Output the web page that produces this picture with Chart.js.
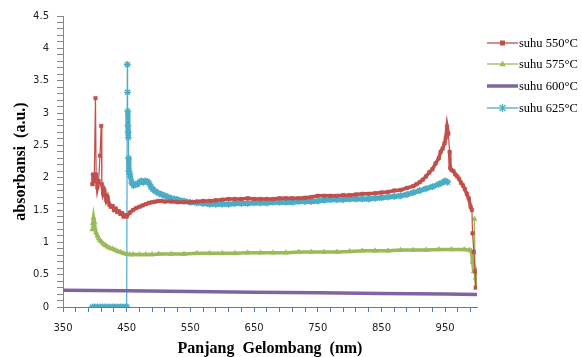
<!DOCTYPE html>
<html>
<head>
<meta charset="utf-8">
<script src="https://cdn.jsdelivr.net/npm/chart.js@4/dist/chart.umd.min.js"></script>
<style>
  html, body { margin: 0; padding: 0; background: #fff; }
  #wrap { width: 582px; height: 357px; }
</style>
</head>
<body>
<div id="wrap"><canvas id="absChart" width="582" height="357"></canvas></div>
<script>
// wavelength (nm) and absorbance for each temperature
const wl550 = [396, 397, 399, 401, 402, 404, 406, 408, 410, 411, 413, 415, 418, 420, 423, 425, 428, 430, 433, 435, 438, 440, 443, 445, 448, 450,
  455, 460, 465, 470, 475, 480, 485, 490, 495, 500, 505, 510, 520, 530, 540, 550, 560, 570, 580, 590, 600, 610, 620, 630, 640, 650,
  660, 670, 680, 690, 700, 710, 720, 730, 740, 750, 760, 770, 780, 790, 800, 810, 820, 830, 840, 850, 860, 870, 880, 890, 900,
  905, 910, 915, 920, 925, 930, 935, 940, 943, 946, 949, 951, 953, 955, 957, 958, 960, 963, 966, 969, 972, 975, 978, 981, 984,
  987, 990, 992, 993, 995, 997, 998];
const abs550 = [1.90, 2.05, 1.95, 3.23, 2.05, 1.85, 1.95, 2.34, 2.80, 1.90, 1.75, 1.80, 1.65, 1.70, 1.58, 1.55, 1.56, 1.50, 1.52, 1.47, 1.48, 1.44, 1.45, 1.40, 1.42, 1.40,
  1.46, 1.50, 1.53, 1.55, 1.57, 1.59, 1.61, 1.62, 1.63, 1.64, 1.64, 1.63, 1.63, 1.62, 1.62, 1.62, 1.63, 1.64, 1.64, 1.65, 1.66, 1.67, 1.67, 1.67, 1.68, 1.67,
  1.67, 1.67, 1.67, 1.68, 1.68, 1.68, 1.68, 1.69, 1.70, 1.72, 1.72, 1.72, 1.72, 1.73, 1.73, 1.74, 1.75, 1.75, 1.76, 1.77, 1.78, 1.80, 1.81, 1.84, 1.87,
  1.90, 1.93, 1.97, 2.02, 2.08, 2.13, 2.22, 2.30, 2.40, 2.45, 2.53, 2.62, 2.79, 2.68, 2.40, 2.15, 2.12, 2.10, 2.05, 2.02, 1.98, 1.92, 1.88, 1.82, 1.75,
  1.68, 1.55, 1.50, 1.14, 0.85, 0.55, 0.30];

const wl575 = [396, 397, 398, 399, 400, 402, 404, 406, 408, 411, 414, 417, 420, 424, 428, 432, 436, 440, 445, 450, 455, 460, 470, 480, 490, 500,
  520, 540, 560, 580, 600, 620, 640, 660, 680, 700, 720, 740, 760, 780, 800, 820, 840, 860, 880, 900, 920, 940, 960, 980,
  988, 991, 993, 995, 996, 997, 998, 999];
const abs575 = [1.20, 1.30, 1.38, 1.32, 1.22, 1.15, 1.10, 1.06, 1.03, 1.00, 0.97, 0.95, 0.93, 0.91, 0.90, 0.88, 0.86, 0.85, 0.83, 0.82, 0.81, 0.81, 0.81, 0.81, 0.81, 0.82,
  0.82, 0.82, 0.83, 0.83, 0.83, 0.83, 0.84, 0.84, 0.84, 0.84, 0.85, 0.85, 0.85, 0.85, 0.86, 0.87, 0.87, 0.87, 0.88, 0.88, 0.88, 0.89, 0.89, 0.89,
  0.88, 0.87, 0.70, 0.55, 1.36, 0.60, 0.45, 0.30];

const wl600 = [350, 450, 550, 650, 750, 850, 950, 1000];
const abs600 = [0.26, 0.25, 0.24, 0.23, 0.22, 0.21, 0.20, 0.195];

const wl625 = [396, 400, 404, 408, 412, 416, 420, 424, 428, 432, 436, 440, 444, 448, 450,
  451, 451.3, 451.6, 452, 452.3, 452.6, 453, 453.5, 455, 458, 461, 464, 467, 470, 473, 476, 479, 482, 485, 488, 491, 495, 500,
  505, 510, 515, 520, 525, 530, 540, 550, 560, 570, 580, 590, 600, 610, 620, 630, 640, 650, 660, 670, 680, 690, 700, 710, 720,
  730, 740, 750, 760, 770, 780, 790, 800, 810, 820, 830, 840, 850, 860, 870, 880, 890, 900, 910, 920, 930, 940, 945, 950, 954];
const abs625 = [0, 0, 0, 0, 0, 0, 0, 0, 0, 0, 0, 0, 0, 0, 0,
  3.75, 3.32, 3.03, 2.80, 2.70, 2.62, 2.30, 2.10, 2.05, 1.92, 1.88, 1.90, 1.90, 1.93, 1.95, 1.93, 1.95, 1.94, 1.92, 1.86, 1.82, 1.79, 1.76,
  1.74, 1.72, 1.70, 1.68, 1.67, 1.66, 1.64, 1.62, 1.61, 1.60, 1.59, 1.59, 1.59, 1.59, 1.60, 1.60, 1.60, 1.61, 1.61, 1.61, 1.62, 1.62, 1.62, 1.62, 1.63,
  1.63, 1.63, 1.64, 1.65, 1.66, 1.66, 1.66, 1.67, 1.67, 1.67, 1.67, 1.68, 1.69, 1.70, 1.71, 1.72, 1.74, 1.77, 1.80, 1.83, 1.86, 1.90, 1.92, 1.95, 1.93];

const seriesNames = ['suhu 550°C', 'suhu 575°C', 'suhu 600°C', 'suhu 625°C'];
const yTicks = [];
for (let i = 0; i <= 45; i++) yTicks.push(i / 10);
const xTicks = [];
for (let v = 350; v <= 990; v += 20) xTicks.push(v);

function pairs(xs, ys) {
  return xs.map((x, i) => ({ x: x, y: ys[i] }));
}

// thick band where the data is smooth, thin line across the jumps
function bandWidth(thick) {
  return (c) => (Math.abs(c.p1.parsed.y - c.p0.parsed.y) > 0.25 ? 1.2 : thick);
}

const RED = '#c0504d', GREEN = '#9bbb59', PURPLE = '#8064a2', CYAN = '#4bacc6';

// draws a marker like the ones in the series
function marker(ctx, style, x, y, color) {
  ctx.save();
  ctx.fillStyle = color;
  ctx.strokeStyle = color;
  ctx.lineWidth = 1.3;
  if (style === 'rect') {
    ctx.fillRect(x - 2.5, y - 2.5, 5, 5);
  } else if (style === 'triangle') {
    ctx.beginPath();
    ctx.moveTo(x, y - 3.5);
    ctx.lineTo(x + 3.2, y + 2.3);
    ctx.lineTo(x - 3.2, y + 2.3);
    ctx.closePath();
    ctx.fill();
  } else if (style === 'star') {
    ctx.beginPath();
    ctx.moveTo(x - 3, y - 3); ctx.lineTo(x + 3, y + 3);
    ctx.moveTo(x + 3, y - 3); ctx.lineTo(x - 3, y + 3);
    ctx.moveTo(x, y - 4); ctx.lineTo(x, y + 4);
    ctx.stroke();
  }
  ctx.restore();
}

const legendPlugin = {
  id: 'sideLegend',
  afterDraw(chart) {
    const ctx = chart.ctx;
    const items = [
      { color: RED, style: 'rect', w: 1.3, y: 43 },
      { color: GREEN, style: 'triangle', w: 1.3, y: 64 },
      { color: PURPLE, style: null, w: 3.5, y: 86 },
      { color: CYAN, style: 'star', w: 1.3, y: 108 }
    ];
    items.forEach((it, i) => {
      ctx.save();
      ctx.strokeStyle = it.color;
      ctx.lineWidth = it.w;
      ctx.beginPath();
      ctx.moveTo(487, it.y);
      ctx.lineTo(518, it.y);
      ctx.stroke();
      ctx.restore();
      if (it.style) marker(ctx, it.style, 502.5, it.y, it.color);
      ctx.save();
      ctx.fillStyle = '#000';
      ctx.font = '12.5px "Liberation Serif", serif';
      ctx.textBaseline = 'middle';
      ctx.fillText(seriesNames[i], 519, it.y + 1);
      ctx.restore();
    });
  }
};

const bgPlugin = {
  id: 'whiteBg',
  beforeDraw(chart) {
    const ctx = chart.ctx;
    ctx.save();
    ctx.fillStyle = '#fff';
    ctx.fillRect(0, 0, chart.width, chart.height);
    ctx.restore();
  }
};

const ctx = document.getElementById('absChart').getContext('2d');
const absChart = new Chart(ctx, {
  type: 'line',
  data: {
    datasets: [
      { label: seriesNames[0], data: pairs(wl550, abs550), borderColor: RED, backgroundColor: RED, borderWidth: 3.5,
        segment: { borderWidth: bandWidth(3.5) },
        pointStyle: 'rect', pointRadius: 2.5, pointBorderWidth: 0.5, pointBackgroundColor: RED, pointBorderColor: RED },
      { label: seriesNames[1], data: pairs(wl575, abs575), borderColor: GREEN, backgroundColor: GREEN, borderWidth: 3.5,
        segment: { borderWidth: bandWidth(3.5) },
        pointStyle: 'triangle', pointRadius: 3, pointBorderWidth: 0.5, pointBackgroundColor: GREEN, pointBorderColor: GREEN },
      { label: seriesNames[2], data: pairs(wl600, abs600), borderColor: PURPLE, backgroundColor: PURPLE, borderWidth: 3.5,
        pointRadius: 0 },
      { label: seriesNames[3], data: pairs(wl625, abs625), borderColor: CYAN, backgroundColor: CYAN, borderWidth: 5,
        segment: { borderWidth: bandWidth(5) },
        pointStyle: 'star', pointRadius: 3.5, pointBorderWidth: 1.3, pointBackgroundColor: CYAN, pointBorderColor: CYAN }
    ]
  },
  options: {
    responsive: false,
    animation: false,
    devicePixelRatio: 1,
    layout: { padding: { top: 16, right: 105, left: 0, bottom: 0 } },
    plugins: {
      legend: { display: false },
      tooltip: { enabled: false }
    },
    scales: {
      x: {
        type: 'linear',
        min: 350,
        max: 1000,
        afterBuildTicks: (scale) => { scale.ticks = xTicks.map(v => ({ value: v })); },
        afterFit: (scale) => { scale.height = 50; },
        border: { display: true, color: '#4a7ebb', width: 1 },
        grid: { display: true, drawOnChartArea: false, drawTicks: true, tickLength: 5, tickColor: '#4a7ebb' },
        ticks: {
          autoSkip: false,
          maxRotation: 0,
          padding: 10,
          color: '#222',
          font: { family: '"DejaVu Sans", sans-serif', size: 10 },
          callback: (v) => ((v - 350) % 100 === 0 ? String(v) : '')
        },
        title: {
          display: true,
          text: 'Panjang  Gelombang  (nm)',
          color: '#000',
          font: { family: '"Liberation Serif", serif', size: 16, weight: 'bold' },
          padding: { top: 0, bottom: -1 }
        }
      },
      y: {
        min: 0,
        max: 4.5,
        afterBuildTicks: (scale) => { scale.ticks = yTicks.map(v => ({ value: v })); },
        afterFit: (scale) => { scale.width = 63; },
        border: { display: true, color: '#868686', width: 1 },
        grid: { display: true, drawOnChartArea: false, drawTicks: true, tickLength: 6, tickColor: '#868686' },
        ticks: {
          autoSkip: false,
          padding: 8,
          color: '#222',
          font: { family: '"DejaVu Sans", sans-serif', size: 10 },
          callback: (v) => {
            const h = Math.round(v * 10);
            return h % 5 === 0 ? String(h / 10) : '';
          }
        },
        title: {
          display: true,
          text: 'absorbansi  (a.u.)',
          color: '#000',
          font: { family: '"Liberation Serif", serif', size: 16, weight: 'bold' },
          padding: { top: 11, bottom: 0 }
        }
      }
    }
  },
  plugins: [bgPlugin, legendPlugin]
});
</script>
</body>
</html>
